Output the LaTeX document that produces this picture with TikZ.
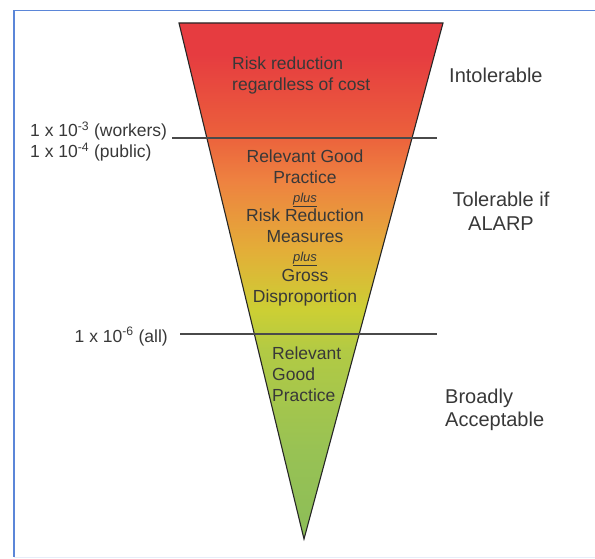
\documentclass[tikz,border=0pt]{standalone}
\usepackage{fontspec}
\setmainfont{Liberation Sans}
\definecolor{cR}{HTML}{E63C40}
\definecolor{cOR}{HTML}{EB5E3C}
\definecolor{cO}{HTML}{EE8240}
\definecolor{cYO}{HTML}{E3AE38}
\definecolor{cYG}{HTML}{CCCF34}
\definecolor{cYG2}{HTML}{B2CA44}
\definecolor{cG1}{HTML}{98C254}
\definecolor{cG2}{HTML}{8CBD58}
\definecolor{txt}{HTML}{383838}
\definecolor{framec}{HTML}{5B86D8}
\definecolor{linec}{HTML}{4A4A4A}
\pgfdeclareverticalshading{riskshade}{100bp}{color(0bp)=(cG2); color(25bp)=(cG2); color(33.6bp)=(cG1); color(43.3bp)=(cYG2); color(47.15bp)=(cYG); color(52.95bp)=(cYO); color(59.7bp)=(cO); color(64.55bp)=(cOR); color(72bp)=(cR); color(100bp)=(cR)}
\tikzset{
  inner/.style={text=txt, inner sep=0pt, font=\fontsize{17.5}{20}\selectfont},
  plusw/.style={text=txt, inner sep=0pt, font=\fontsize{13}{15}\selectfont\itshape},
  side/.style={text=txt, inner sep=0pt, font=\fontsize{20}{22}\selectfont},
  left/.style={text=txt, inner sep=0pt, font=\fontsize{17.5}{20}\selectfont},
  level/.style={draw=linec, line width=1.6pt},
}
\begin{document}
\begin{tikzpicture}[x=1pt,y=-1pt]
\path[use as bounding box] (0,0) rectangle (595,559);
% frame
\coordinate (f1) at (595,10.5);
\coordinate (f2) at (14,10.5);
\coordinate (f3) at (14,557);
\coordinate (f4) at (595,557);
\draw[framec, line width=1.2pt] (f1) -- (f2) -- (f3);
\draw[framec!15, line width=1pt] (f3) -- (f4);
% triangle
\coordinate (tl) at (179,23);
\coordinate (tr) at (443,23);
\coordinate (ap) at (304,539);
\shade[shading=riskshade] (tl) -- (tr) -- (ap) -- cycle;
\draw[black!85, line width=1.1pt, line join=miter] (tl) -- (tr) -- (ap) -- cycle;
% level lines
\coordinate (u1) at (172,138);
\coordinate (u2) at (437,138);
\coordinate (l1) at (180,334);
\coordinate (l2) at (437,334);
\draw[level] (u1) -- (u2);
\draw[level] (l1) -- (l2);
% top text
\node[inner, anchor=base west] (rr1) at (232,70) {Risk reduction};
\node[inner, anchor=base west] (rr2) at (232,91) {regardless of cost};
% middle text
\node[inner, anchor=base] (m1) at (305,163) {Relevant Good};
\node[inner, anchor=base] (m2) at (305,183.5) {Practice};
\node[plusw, anchor=base] (m3) at (305,202.5) {\underline{plus}};
\node[inner, anchor=base] (m4) at (305,222) {Risk Reduction};
\node[inner, anchor=base] (m5) at (305,242.5) {Measures};
\node[plusw, anchor=base] (m6) at (305,261.5) {\underline{plus}};
\node[inner, anchor=base] (m7) at (305,281) {Gross};
\node[inner, anchor=base] (m8) at (305,302) {Disproportion};
% lower text
\node[inner, anchor=base west] (b1) at (272,359) {Relevant};
\node[inner, anchor=base west] (b2) at (272,380) {Good};
\node[inner, anchor=base west] (b3) at (272,401) {Practice};
% left labels
\node[left, anchor=base west] (w) at (30,137) {1 x 10\textsuperscript{-3} (workers)};
\node[left, anchor=base west] (p) at (30,157.5) {1 x 10\textsuperscript{-4} (public)};
\node[left, anchor=base east] (a) at (168,342) {1 x 10\textsuperscript{-6} (all)};
% right labels
\node[side, anchor=base west] (it) at (449,83) {Intolerable};
\node[side, anchor=base] (t1) at (501,207) {Tolerable if};
\node[side, anchor=base] (t2) at (501,230) {ALARP};
\node[side, anchor=base west] (ba1) at (445,403) {Broadly};
\node[side, anchor=base west] (ba2) at (445,426) {Acceptable};
\end{tikzpicture}
\end{document}
